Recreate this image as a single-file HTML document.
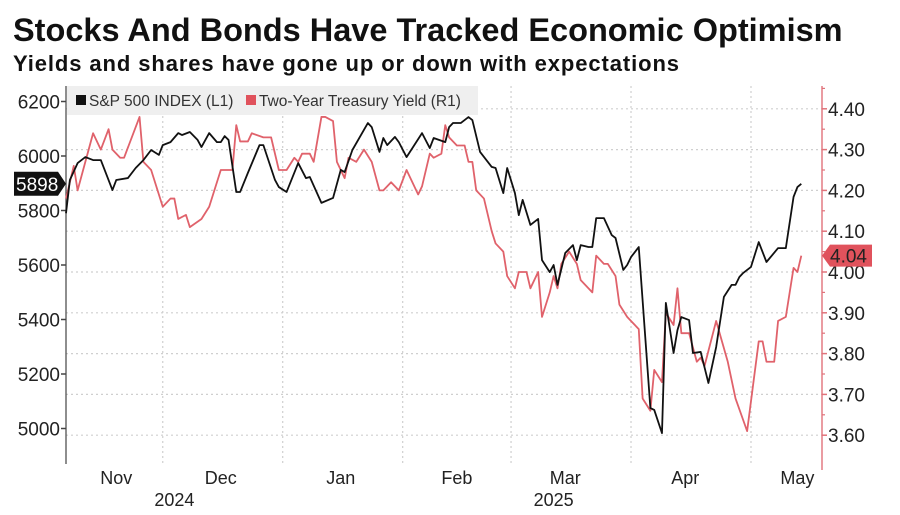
<!DOCTYPE html>
<html><head><meta charset="utf-8"><style>
body{margin:0;background:#fff;width:900px;height:510px;overflow:hidden;font-family:"Liberation Sans",sans-serif}
</style></head><body>
<svg id="chart" width="900" height="510" xmlns="http://www.w3.org/2000/svg">
<text x="13" y="41" font-size="32.5" font-weight="bold" fill="#111">Stocks And Bonds Have Tracked Economic Optimism</text>
<text x="13" y="71" font-size="22" font-weight="bold" letter-spacing="0.9" fill="#111">Yields and shares have gone up or down with expectations</text>
<g id="grid"></g>
<rect x="67" y="86" width="411" height="29" fill="#efefef"/>
<g><rect x="76" y="95" width="10" height="10" fill="#111"/><text x="89" y="106" font-size="15.5" fill="#333">S&amp;P 500 INDEX (L1)</text></g>
<g><rect x="246" y="95" width="10" height="10" fill="#e0525c"/><text x="259" y="106" font-size="15.5" fill="#333">Two-Year Treasury Yield (R1)</text></g>
<g id="axes"></g>
<g id="series"></g>
</svg>
<script>
const spxDays=[0,1,3,5,7,9,12,13,16,18,20,22,24,25,27,29,30,32,34,35,37,39,40,41,42,44,45,47,50,51,54,55,57,60,62,63,66,69,71,72,74,78,79,81,82,83,85,86,88,90,92,94,95,98,99,100,102,104,105,107,110,111,113,114,116,117,118,120,122,123,125,126,127,129,131,132,133,135,136,137,139,141,142,144,145,146,148,151,152,154,155,157,158,159,161,162,164,166,168,170,172,173,174,175,177,179,181,184,186,188,189,190];
const spxValues=[5790,5912,5974,5996,5985,5985,5875,5912,5919,5956,5985,6022,6004,6040,6051,6084,6077,6088,6059,6033,6084,6051,6051,6073,6059,5868,5868,5938,6040,6040,5912,5886,5868,5974,5919,5923,5828,5846,5949,5941,6022,6121,6106,6015,6066,6040,6070,6051,5996,6040,6084,6029,6066,6051,6106,6121,6121,6143,6132,6015,5960,5956,5864,5956,5864,5783,5839,5747,5769,5618,5574,5600,5527,5644,5673,5618,5673,5666,5666,5772,5772,5710,5699,5582,5600,5629,5666,5075,5068,4983,5461,5277,5361,5409,5398,5277,5281,5167,5299,5483,5527,5527,5556,5571,5593,5684,5611,5662,5662,5850,5886,5898];
const yldDays=[0,2,3,7,9,11,12,14,15,19,20,22,25,27,28,29,31,32,35,37,40,42,43,44,45,47,48,51,53,55,57,59,60,61,63,64,66,67,69,70,72,73,75,77,79,81,82,84,86,88,91,92,94,95,97,98,99,101,103,104,105,106,108,110,111,113,114,116,117,119,120,122,123,125,126,127,128,130,132,133,136,137,139,140,142,143,145,146,148,149,151,152,154,155,157,158,159,161,163,164,165,168,171,173,176,179,180,181,183,184,186,188,189,190];
const yldValues=[4.18,4.26,4.20,4.34,4.30,4.35,4.30,4.28,4.28,4.38,4.27,4.25,4.16,4.18,4.18,4.13,4.14,4.11,4.13,4.16,4.25,4.25,4.25,4.36,4.32,4.32,4.34,4.33,4.33,4.25,4.25,4.28,4.27,4.29,4.29,4.27,4.38,4.38,4.37,4.27,4.23,4.28,4.27,4.30,4.27,4.20,4.20,4.22,4.20,4.25,4.19,4.21,4.29,4.28,4.29,4.36,4.33,4.31,4.31,4.27,4.27,4.20,4.18,4.10,4.07,4.05,3.99,3.96,4.00,4.00,3.96,4.00,3.89,3.95,3.99,3.96,4.02,4.05,4.02,3.98,3.95,4.04,4.02,4.02,3.99,3.92,3.89,3.88,3.86,3.69,3.66,3.76,3.73,3.90,3.87,3.96,3.85,3.85,3.78,3.79,3.77,3.88,3.78,3.69,3.61,3.83,3.83,3.78,3.78,3.88,3.89,4.01,4.00,4.04];
const leftTicks=[6200,6000,5800,5600,5400,5200,5000];
const rightTicks=[4.40,4.30,4.20,4.10,4.00,3.90,3.80,3.70,3.60];
const monthLabels=["Nov","Dec","Jan","Feb","Mar","Apr","May"];
const monthMidDays=[13,40,71,101,129,160,189];
const monthStartDays=[25,56,87,115,146,177];
const yearLabels=["2024","2025"];
const yearDays=[28,126];

const NS="http://www.w3.org/2000/svg";
const X0=66,PX=3.87,L=66,R=822,T=86,B=464;
const xS=d=>X0+d*PX;
const yL=v=>156-(v-6000)*54.5/200;
const yR=v=>272-(v-4)*408;
function mk(tag,attrs,parent){const e=document.createElementNS(NS,tag);for(const k in attrs)e.setAttribute(k,attrs[k]);parent.appendChild(e);return e;}
const grid=document.getElementById('grid'),axes=document.getElementById('axes'),series=document.getElementById('series');
rightTicks.forEach(v=>{const l=mk('line',{x1:L,x2:R,y1:yR(v),y2:yR(v),stroke:'#cfcfcf','stroke-dasharray':'2,3','stroke-width':1.2},grid);

});
monthStartDays.forEach(d=>{const l=mk('line',{x1:xS(d),x2:xS(d),y1:T,y2:B,stroke:'#cfcfcf','stroke-dasharray':'2,3','stroke-width':1.2},grid);

});
mk('line',{x1:L,x2:L,y1:T,y2:B,stroke:'#444','stroke-width':1.2},axes);
const ra=mk('line',{x1:R,x2:R,y1:86,y2:470,stroke:'#e0727a','stroke-width':1.4},axes);


leftTicks.forEach(v=>{mk('line',{x1:L-5,x2:L,y1:yL(v),y2:yL(v),stroke:'#444','stroke-width':1.5},axes);
const t=mk('text',{x:L-6,y:yL(v)+7,'font-size':19,'text-anchor':'end',fill:'#222'},axes);t.textContent=v;

});
rightTicks.forEach(v=>{mk('line',{x1:R,x2:R+5,y1:yR(v),y2:yR(v),stroke:'#e0727a','stroke-width':1.5},axes);
mk('line',{x1:R,x2:R+3,y1:yR(v+0.05),y2:yR(v+0.05),stroke:'#e0727a','stroke-width':1.2},axes);
const t=mk('text',{x:R+6,y:yR(v)+7,'font-size':19,fill:'#222'},axes);t.textContent=v.toFixed(2);

});
monthLabels.forEach((m,i)=>{const t=mk('text',{x:xS(monthMidDays[i]),y:484,'font-size':18,'text-anchor':'middle',fill:'#222'},axes);t.textContent=m;

});
yearLabels.forEach((m,i)=>{const t=mk('text',{x:xS(yearDays[i]),y:506,'font-size':18,'text-anchor':'middle',fill:'#222'},axes);t.textContent=m;

});
const yl=mk('polyline',{points:yldDays.map((d,i)=>xS(d)+','+yR(yldValues[i])).join(' '),fill:'none',stroke:'#e0626b','stroke-width':1.8,'stroke-linejoin':'round'},series);


const sl=mk('polyline',{points:spxDays.map((d,i)=>xS(d)+','+yL(spxValues[i])).join(' '),fill:'none',stroke:'#111','stroke-width':1.8,'stroke-linejoin':'round'},series);


const sv=spxValues[spxValues.length-1],sy=yL(sv);
const tg=mk('g',{},series);


mk('path',{d:`M14 ${sy-12} H58 L66 ${sy} L58 ${sy+12} H14 Z`,fill:'#111'},tg);
const st=mk('text',{x:16,y:sy+7,'font-size':19,fill:'#fff'},tg);st.textContent=sv;
const yv=yldValues[yldValues.length-1],yy=yR(yv);
const tg2=mk('g',{},series);


mk('path',{d:`M822 ${yy} L830 ${yy-11} H872 V${yy+11} H830 Z`,fill:'#e0525c'},tg2);
const yt=mk('text',{x:830,y:yy+7,'font-size':19,fill:'#222'},tg2);yt.textContent=yv.toFixed(2);
</script>
</body></html>
